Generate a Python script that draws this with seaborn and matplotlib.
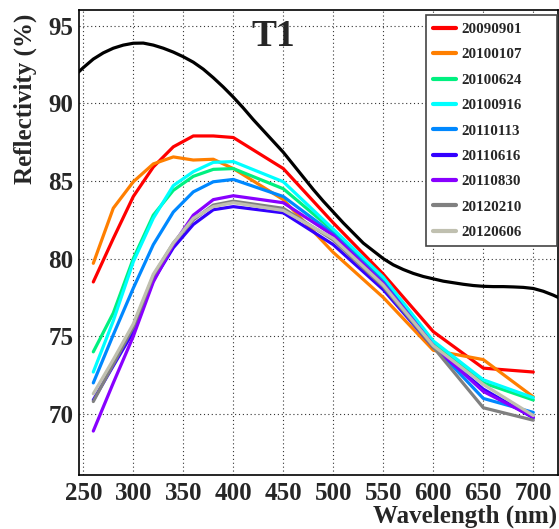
import numpy as np
import pandas as pd
import matplotlib
matplotlib.use("Agg")
import matplotlib.pyplot as plt
from matplotlib.ticker import MultipleLocator
import seaborn as sns

# ---------------- data ----------------
wavelengths = [260, 280, 300, 320, 340, 360, 380, 400, 450, 500, 550, 600, 650, 700]
dates = ["20090901", "20100107", "20100624", "20100916", "20110113",
         "20110616", "20110830", "20120210", "20120606"]
r_20090901 = [78.5, 81.3, 84.0, 85.9, 87.2, 87.9, 87.9, 87.8, 85.8, 82.3, 79.0, 75.3, 72.95, 72.7]
r_20100107 = [79.7, 83.25, 84.95, 86.1, 86.55, 86.35, 86.4, 85.8, 83.8, 80.4, 77.5, 74.1, 73.5, 71.1]
r_20100624 = [74.0, 76.5, 80.0, 82.8, 84.4, 85.3, 85.75, 85.8, 84.5, 81.8, 78.7, 74.6, 72.0, 70.9]
r_20100916 = [72.7, 76.0, 79.8, 82.6, 84.7, 85.6, 86.2, 86.25, 84.95, 81.9, 78.8, 74.7, 72.2, 71.05]
r_20110113 = [72.0, 75.1, 78.1, 80.9, 83.0, 84.3, 84.95, 85.1, 84.0, 81.6, 78.5, 74.4, 71.0, 70.1]
r_20110616 = [70.9, 73.1, 75.3, 78.6, 80.7, 82.2, 83.15, 83.35, 82.95, 80.9, 78.0, 74.3, 71.6, 69.75]
r_20110830 = [68.9, 72.0, 75.0, 78.5, 80.9, 82.8, 83.8, 84.05, 83.6, 81.5, 78.4, 74.4, 71.45, 69.8]
r_20120210 = [70.8, 73.2, 75.6, 78.9, 81.0, 82.5, 83.45, 83.7, 83.24, 81.2, 78.2, 74.3, 70.4, 69.6]
r_20120606 = [71.3, 73.5, 75.8, 79.0, 81.0, 82.6, 83.35, 83.6, 83.1, 81.3, 78.3, 74.4, 71.9, 69.9]
series = [r_20090901, r_20100107, r_20100624, r_20100916, r_20110113,
          r_20110616, r_20110830, r_20120210, r_20120606]

ref_wavelengths = [245, 250, 260, 270, 280, 290, 300, 310, 320, 330, 340, 350, 360, 370,
                   380, 390, 400, 410, 420, 430, 440, 450, 460, 470, 480, 490, 500, 510,
                   520, 530, 540, 550, 560, 570, 580, 590, 600, 610, 620, 630, 640, 650,
                   660, 670, 680, 690, 700, 710, 720, 725]
ref_values = [92.0, 92.3, 92.85, 93.25, 93.55, 93.75, 93.87, 93.88, 93.75, 93.55, 93.3,
              93.0, 92.65, 92.2, 91.65, 91.05, 90.4, 89.7, 88.95, 88.25, 87.55, 86.85,
              86.05, 85.25, 84.45, 83.7, 83.0, 82.3, 81.65, 81.0, 80.5, 80.0, 79.6, 79.3,
              79.05, 78.85, 78.7, 78.55, 78.45, 78.35, 78.27, 78.22, 78.2, 78.2, 78.18,
              78.15, 78.08, 77.9, 77.65, 77.5]

colors = ["#ff0000", "#ff7f00", "#00f080", "#00ffff", "#0088ff",
          "#3300ff", "#8800ff", "#808080", "#c0c0b0"]

df = pd.DataFrame({
    "wavelength": np.tile(wavelengths, len(dates)),
    "refl": np.concatenate(series),
    "date": np.repeat(dates, len(wavelengths)),
})
ref_df = pd.DataFrame({"wavelength": ref_wavelengths, "refl": ref_values})

# ---------------- style ----------------
sns.set_style("white")
plt.rcParams["font.family"] = ["Liberation Serif", "DejaVu Serif"]
plt.rcParams["font.weight"] = "bold"

fig = plt.figure(figsize=(5.59, 5.29), dpi=100)
ax = fig.add_axes([79 / 559, 1 - 475 / 529, 479 / 559, 465 / 529])

sns.lineplot(data=ref_df, x="wavelength", y="refl", color="black", lw=2.3,
             ax=ax, legend=False, zorder=3)
sns.lineplot(data=df, x="wavelength", y="refl", hue="date", hue_order=dates,
             palette=colors, lw=2.3, ax=ax, zorder=4)

ax.set_xlim(245.7, 724.7)
ax.set_ylim(66.07, 96.01)
ax.xaxis.set_major_locator(MultipleLocator(50))
ax.xaxis.set_minor_locator(MultipleLocator(10))
ax.yaxis.set_major_locator(MultipleLocator(5))
ax.yaxis.set_minor_locator(MultipleLocator(1))
ax.tick_params(which="both", direction="in", top=False, right=False,
               width=1.0, color="black", labelsize=18)
ax.tick_params(which="major", length=9.5)
ax.tick_params(which="minor", length=5)
ax.tick_params(axis="x", which="major", pad=5)
ax.tick_params(axis="y", which="major", pad=4)
for lab in ax.get_xticklabels() + ax.get_yticklabels():
    lab.set_fontweight("bold")

ax.grid(True, which="major", color="#333333", linestyle=(0, (1, 2.5)), lw=0.8)
for s in ax.spines.values():
    s.set_color("black")
    s.set_linewidth(1.2)

ax.set_xlabel("")
ax.set_ylabel("")
fig.text(557 / 559, (529 - 523) / 529, "Wavelength (nm)", ha="right", va="baseline",
         fontsize=18, fontweight="bold")
fig.text(25 / 559, 1 - 14 / 529, "Reflectivity (%)", ha="center", va="top",
         rotation=90, fontsize=18, fontweight="bold")
fig.text(273 / 559, 1 - 37 / 529, "T1", ha="center", va="center",
         fontsize=27, fontweight="bold")

leg = ax.legend(loc="upper left", bbox_to_anchor=(0.7238, 0.4925, 0.2735, 0.4965),
                mode="expand", frameon=True, fancybox=False, framealpha=1,
                edgecolor="#444444", fontsize=10.8, handlelength=1.55,
                handletextpad=0.3, labelspacing=0.79, borderpad=0.5,
                borderaxespad=0, title=None)
leg.get_frame().set_linewidth(1.2)
for t in leg.get_texts():
    t.set_fontweight("bold")
for h in leg.get_lines():
    h.set_linewidth(3)
leg.set_zorder(10)

fig.savefig("out.png", dpi=100)
